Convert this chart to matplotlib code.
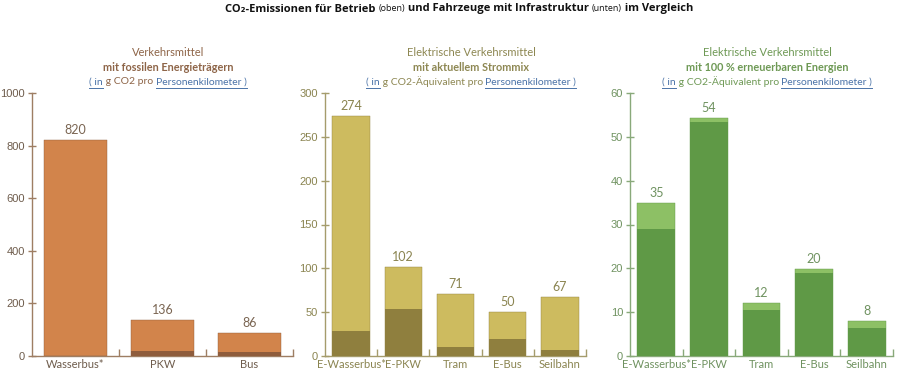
import matplotlib
matplotlib.use("Agg")
import matplotlib.pyplot as plt
from matplotlib.ticker import FixedLocator

# ---------------- data ----------------
fossil_cats = ["Wasserbus*", "PKW", "Bus"]
fossil_total = [820, 136, 86]
fossil_infra = [0, 18, 14]

elec_cats = ["E-Wasserbus*", "E-PKW", "Tram", "E-Bus", "Seilbahn"]
mix_total = [274, 102, 71, 50, 67]
mix_infra = [29, 53.3, 10.5, 19, 6.5]

green_total = [35, 54.4, 12, 19.8, 8]
green_infra = [29, 53.3, 10.5, 19, 6.5]

yticks_1 = [0, 200, 400, 600, 800, 1000]
yticks_2 = [0, 50, 100, 150, 200, 250, 300]
yticks_3 = [0, 10, 20, 30, 40, 50, 60]

title_parts = [("CO₂-Emissionen für Betrieb ", "bold", 8), ("(oben)", "normal", 6.5),
               (" und Fahrzeuge mit Infrastruktur ", "bold", 8), ("(unten)", "normal", 6.5),
               (" im Vergleich", "bold", 8)]

sub1 = ["Verkehrsmittel", "mit fossilen Energieträgern", "g CO2 pro"]
sub2 = ["Elektrische Verkehrsmittel", "mit aktuellem Strommix", "g CO2-Äquivalent pro"]
sub3 = ["Elektrische Verkehrsmittel", "mit 100 % erneuerbaren Energien", "g CO2-Äquivalent pro"]

W, H = 900, 372
fig = plt.figure(figsize=(W / 100, H / 100), dpi=100)
fig.patch.set_facecolor("white")
FONT = ["Lato", "DejaVu Sans"]
TFONT = ["Open Sans", "DejaVu Sans"]
LINK = "#4B73A8"

panels = [
    dict(px=(32, 293), cats=fossil_cats, total=fossil_total, infra=fossil_infra,
         yt=yticks_1, light="#D2844B", dark="#8E5C3C", spine="#9E7E63",
         tcol="#6E5C4C", vcol="#7A6552", subcol="#8E6548", sub=sub1, cx=168, bw=0.73),
    dict(px=(325, 586), cats=elec_cats, total=mix_total, infra=mix_infra,
         yt=yticks_2, light="#CDBB5F", dark="#8F7F3E", spine="#A59C6C",
         tcol="#8A8450", vcol="#8A8450", subcol="#8D8752", sub=sub2, cx=471, bw=0.72),
    dict(px=(630, 893), cats=elec_cats, total=green_total, infra=green_infra,
         yt=yticks_3, light="#8DC065", dark="#5F9946", spine="#89A97A",
         tcol="#6F9260", vcol="#6F9260", subcol="#6E9955", sub=sub3, cx=767, bw=0.72),
]

y_bot, y_top = 356, 93
for p in panels:
    l, r = p["px"]
    ax = fig.add_axes([l / W, 1 - y_bot / H, (r - l) / W, (y_bot - y_top) / H])
    n = len(p["cats"])
    xs = list(range(n))
    ax.bar(xs, p["total"], width=p["bw"], color=p["light"], edgecolor=p["dark"], linewidth=0.3, zorder=2)
    ax.bar(xs, p["infra"], width=p["bw"], color=p["dark"], linewidth=0, zorder=3)
    ymax = p["yt"][-1]
    for x, v in zip(xs, p["total"]):
        ax.text(x, v + ymax * 0.015, f"{round(v)}", ha="center", va="bottom",
                fontsize=9, color=p["vcol"], family=FONT)
    ax.set_xlim(-0.5, n - 0.5)
    ax.set_ylim(0, ymax)
    ax.set_yticks(p["yt"])
    ax.set_xticks(xs)
    ax.set_xticklabels(p["cats"], family=FONT, fontsize=8, color=p["tcol"])
    ax.xaxis.set_minor_locator(FixedLocator([i + 0.5 for i in range(n)]))
    ax.tick_params(axis="x", which="major", length=0, pad=2)
    ax.tick_params(axis="x", which="minor", length=5, direction="in", color=p["spine"], width=1)
    ax.tick_params(axis="y", length=6, direction="inout", color=p["spine"], width=1,
                   labelcolor=p["tcol"], labelsize=8, pad=2)
    for lab in ax.get_yticklabels():
        lab.set_family("Liberation Sans")
    for s in ["top", "right"]:
        ax.spines[s].set_visible(False)
    for s in ["left", "bottom"]:
        ax.spines[s].set_color(p["spine"])
        ax.spines[s].set_linewidth(1)
    p["ax"] = ax

renderer = fig.canvas.get_renderer()


def draw_pieces(pieces, cx, ypix, family, underline_idx=()):
    texts = []
    for s, w, fs, col in pieces:
        t = fig.text(0, 1 - ypix / H, s, fontsize=fs, fontweight=w, color=col,
                     family=family, va="center", ha="left")
        texts.append(t)
    widths = [t.get_window_extent(renderer).width for t in texts]
    x = cx - sum(widths) / 2
    for i, (t, wd) in enumerate(zip(texts, widths)):
        t.set_x(x / W)
        if i in underline_idx:
            yl = 1 - (ypix + 6) / H
            fig.add_artist(plt.Line2D([x / W, (x + wd) / W], [yl, yl], color=LINK,
                                      lw=0.7, transform=fig.transFigure))
        x += wd


draw_pieces([(s, w, fs, "#111111") for s, w, fs in title_parts], 459, 9, TFONT)

for p in panels:
    c = p["subcol"]
    draw_pieces([(p["sub"][0], "normal", 8, c)], p["cx"], 53, FONT)
    draw_pieces([(p["sub"][1], "bold", 7.8, c)], p["cx"], 67.5, FONT)
    draw_pieces([("( in", "normal", 7.5, LINK), (" " + p["sub"][2] + " ", "normal", 7.5, c),
                 ("Personenkilometer )", "normal", 7.5, LINK)], p["cx"], 82, FONT,
                underline_idx=(0, 2))

fig.savefig("out.png", dpi=100, facecolor="white")
